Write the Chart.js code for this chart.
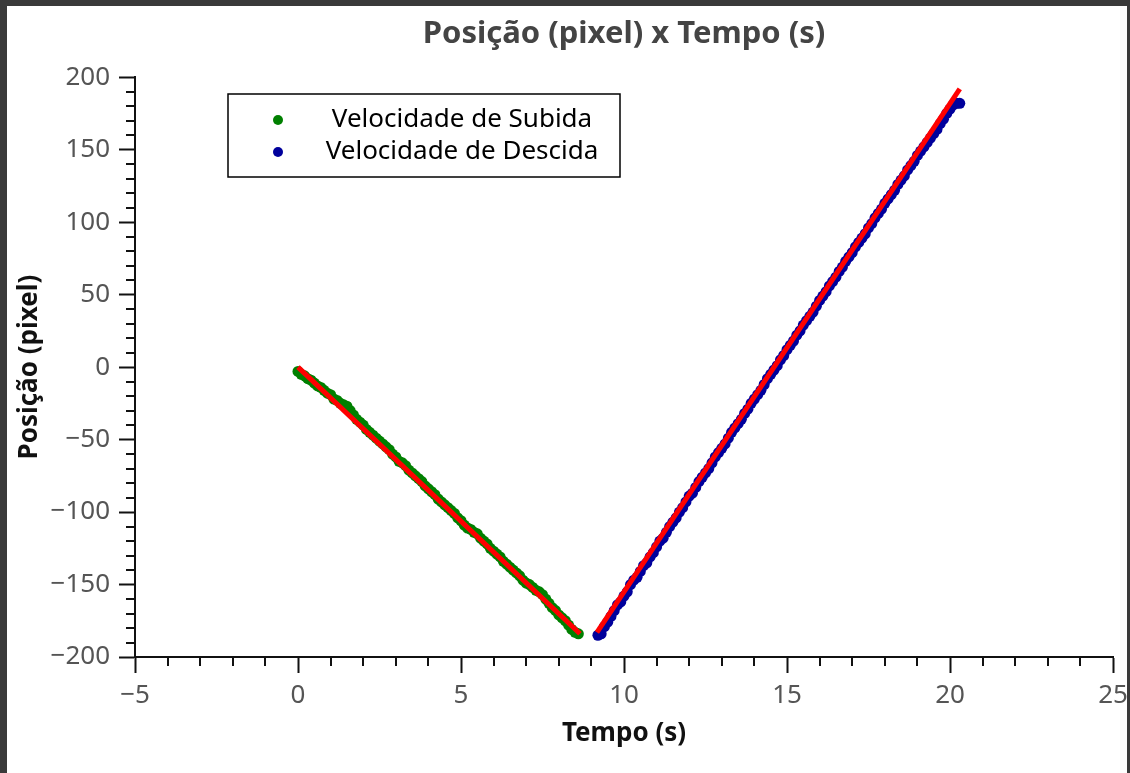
<!DOCTYPE html>
<html>
<head>
<meta charset="utf-8">
<script src="https://cdn.jsdelivr.net/npm/chart.js@4/dist/chart.umd.min.js"></script>
<style>
    html, body { margin: 0; padding: 0; background: #3a3a3a; }
    #wrap { position: absolute; left: 7px; top: 6px; width: 1120px; height: 767px; background: #fff; }
</style>
</head>
<body>
<div id="wrap"><canvas id="posChart"></canvas></div>
<script>
// Subida (green) - tempo (s) and posição (pixel)
const tSubida = [0.0, 0.1, 0.2, 0.3, 0.4, 0.5, 0.6, 0.7, 0.8, 0.9,
    1.0, 1.1, 1.2, 1.3, 1.4, 1.5, 1.6, 1.7, 1.8, 1.9,
    2.0, 2.1, 2.2, 2.3, 2.4, 2.5, 2.6, 2.7, 2.8, 2.9,
    3.0, 3.1, 3.2, 3.3, 3.4, 3.5, 3.6, 3.7, 3.8, 3.9,
    4.0, 4.1, 4.2, 4.3, 4.4, 4.5, 4.6, 4.7, 4.8, 4.9,
    5.0, 5.1, 5.2, 5.3, 5.4, 5.5, 5.6, 5.7, 5.8, 5.9,
    6.0, 6.1, 6.2, 6.3, 6.4, 6.5, 6.6, 6.7, 6.8, 6.9,
    7.0, 7.1, 7.2, 7.3, 7.4, 7.5, 7.6, 7.7, 7.8, 7.9,
    8.0, 8.1, 8.2, 8.3, 8.4, 8.5, 8.6];
const ySubida = [-3, -5, -6, -8, -9, -11, -13, -14, -16, -18,
    -19, -22, -23, -25, -26, -27, -30, -33, -36, -38,
    -40, -43, -45, -47, -49, -51, -53, -55, -57, -60,
    -62, -65, -66, -68, -71, -73, -75, -77, -79, -82,
    -84, -86, -88, -91, -93, -95, -97, -99, -101, -104,
    -106, -109, -111, -112, -114, -115, -118, -120, -122, -125,
    -127, -129, -131, -134, -136, -138, -140, -142, -144, -147,
    -149, -150, -152, -154, -155, -157, -160, -163, -166, -168,
    -171, -173, -175, -178, -181, -183, -184];

// Descida (blue)
const tDescida = [9.2, 9.3, 9.4, 9.5, 9.6, 9.7, 9.8, 9.9,
    10.0, 10.1, 10.2, 10.3, 10.4, 10.5, 10.6, 10.7, 10.8, 10.9,
    11.0, 11.1, 11.2, 11.3, 11.4, 11.5, 11.6, 11.7, 11.8, 11.9,
    12.0, 12.1, 12.2, 12.3, 12.4, 12.5, 12.6, 12.7, 12.8, 12.9,
    13.0, 13.1, 13.2, 13.3, 13.4, 13.5, 13.6, 13.7, 13.8, 13.9,
    14.0, 14.1, 14.2, 14.3, 14.4, 14.5, 14.6, 14.7, 14.8, 14.9,
    15.0, 15.1, 15.2, 15.3, 15.4, 15.5, 15.6, 15.7, 15.8, 15.9,
    16.0, 16.1, 16.2, 16.3, 16.4, 16.5, 16.6, 16.7, 16.8, 16.9,
    17.0, 17.1, 17.2, 17.3, 17.4, 17.5, 17.6, 17.7, 17.8, 17.9,
    18.0, 18.1, 18.2, 18.3, 18.4, 18.5, 18.6, 18.7, 18.8, 18.9,
    19.0, 19.1, 19.2, 19.3, 19.4, 19.5, 19.6, 19.7, 19.8, 19.9,
    20.0, 20.1, 20.2, 20.3];
const yDescida = [-185, -184, -179, -176, -172, -168, -164, -162,
    -158, -155, -150, -147, -145, -141, -137, -135, -131, -128,
    -124, -120, -118, -114, -110, -107, -104, -100, -97, -93,
    -89, -87, -83, -79, -76, -73, -70, -66, -62, -59,
    -56, -53, -49, -45, -42, -39, -36, -32, -29, -25,
    -22, -19, -16, -12, -8, -5, -2, 1, 5, 8,
    12, 15, 18, 22, 25, 29, 32, 35, 38, 42,
    46, 49, 52, 56, 59, 62, 66, 69, 73, 76,
    79, 83, 86, 89, 92, 96, 99, 103, 106, 109,
    113, 116, 119, 122, 126, 129, 132, 136, 139, 142,
    146, 149, 152, 155, 158, 161, 164, 168, 171, 175,
    178, 181, 182, 182];

// fitted lines (red), end points
const tFitSubida = [0.0, 8.65];
const yFitSubida = [0, -184];
const tFitDescida = [9.17, 20.3];
const yFitDescida = [-183, 192];

const FONT = "'Noto Sans', 'DejaVu Sans', sans-serif";

const toPoints = (xs, ys) => xs.map((x, i) => ({ x: x, y: ys[i] }));
const minus = (v) => String(v).replace('-', '\u2212');

// minor ticks, shorter than the major ones
const minorTicks = {
    id: 'minorTicks',
    afterDraw(chart) {
        const ctx = chart.ctx;
        const xs = chart.scales.x;
        const ys = chart.scales.y;
        ctx.save();
        ctx.strokeStyle = '#111';
        ctx.lineWidth = 2;
        ctx.beginPath();
        for (let v = xs.min; v <= xs.max; v += 1) {
            if (v % 5 === 0) continue;
            const px = Math.round(xs.getPixelForValue(v));
            ctx.moveTo(px, ys.bottom);
            ctx.lineTo(px, ys.bottom + 9);
        }
        for (let v = ys.min; v <= ys.max; v += 10) {
            if (v % 50 === 0) continue;
            const py = Math.round(ys.getPixelForValue(v));
            ctx.moveTo(xs.left, py);
            ctx.lineTo(xs.left - 9, py);
        }
        ctx.stroke();
        ctx.restore();
    }
};

// boxed legend inside the plot
const boxLegend = {
    id: 'boxLegend',
    afterDraw(chart) {
        const ctx = chart.ctx;
        const items = chart.data.datasets.filter(d => d.showInBox);
        const box = { x: 221, y: 88, w: 392, h: 83 };
        ctx.save();
        ctx.strokeStyle = '#000';
        ctx.lineWidth = 1.5;
        ctx.fillStyle = '#fff';
        ctx.fillRect(box.x, box.y, box.w, box.h);
        ctx.strokeRect(box.x, box.y, box.w, box.h);
        ctx.font = '26px ' + FONT;
        ctx.textAlign = 'center';
        ctx.textBaseline = 'middle';
        items.forEach((d, i) => {
            const cy = box.y + 26 + i * 32;
            ctx.fillStyle = d.backgroundColor;
            ctx.beginPath();
            ctx.arc(box.x + 50, cy, 5, 0, Math.PI * 2);
            ctx.fill();
            ctx.fillStyle = '#000';
            ctx.fillText(d.label, box.x + 234, cy);
        });
        ctx.restore();
    }
};

document.addEventListener('DOMContentLoaded', () => {
    const ctx = document.getElementById('posChart').getContext('2d');

    new Chart(ctx, {
        type: 'scatter',
        data: {
            datasets: [
                {
                    label: 'Velocidade de Subida',
                    data: toPoints(tSubida, ySubida),
                    backgroundColor: '#008000',
                    borderWidth: 0,
                    pointRadius: 5.5,
                    showInBox: true,
                    order: 3
                },
                {
                    label: 'Velocidade de Descida',
                    data: toPoints(tDescida, yDescida),
                    backgroundColor: '#00009c',
                    borderWidth: 0,
                    pointRadius: 5.5,
                    showInBox: true,
                    order: 2
                },
                {
                    label: 'Ajuste Subida',
                    type: 'line',
                    data: toPoints(tFitSubida, yFitSubida),
                    borderColor: '#ff0000',
                    borderWidth: 5,
                    pointRadius: 0,
                    order: 1
                },
                {
                    label: 'Ajuste Descida',
                    type: 'line',
                    data: toPoints(tFitDescida, yFitDescida),
                    borderColor: '#ff0000',
                    borderWidth: 5,
                    pointRadius: 0,
                    order: 1
                }
            ]
        },
        options: {
            responsive: true,
            maintainAspectRatio: false,
            animation: false,
            layout: { padding: { left: 0, right: 14, top: 0, bottom: 0 } },
            plugins: {
                legend: { display: false },
                tooltip: { enabled: false },
                title: {
                    display: true,
                    fullSize: false,
                    text: 'Posição (pixel) x Tempo (s)',
                    color: '#444',
                    font: { family: FONT, size: 31, weight: 'bold' },
                    padding: { top: 10, bottom: 24 }
                }
            },
            scales: {
                x: {
                    type: 'linear',
                    min: -5,
                    max: 25,
                    afterFit: (scale) => { scale.height = 116; scale.paddingRight = 0; },
                    border: { display: true, color: '#111', width: 2 },
                    grid: { drawOnChartArea: false, drawTicks: true, tickLength: 16, tickWidth: 2, tickColor: '#111' },
                    ticks: {
                        stepSize: 5,
                        padding: 7,
                        color: '#555',
                        font: { family: FONT, size: 26 },
                        callback: (v) => minus(v)
                    },
                    title: {
                        display: true,
                        text: 'Tempo (s)',
                        color: '#111',
                        font: { family: FONT, size: 26, weight: 'bold' },
                        padding: { top: 0, bottom: 24 }
                    }
                },
                y: {
                    type: 'linear',
                    min: -200,
                    max: 200,
                    afterFit: (scale) => { scale.width = 128; },
                    border: { display: true, color: '#111', width: 2 },
                    grid: { drawOnChartArea: false, drawTicks: true, tickLength: 16, tickWidth: 2, tickColor: '#111' },
                    ticks: {
                        stepSize: 50,
                        padding: 9,
                        color: '#555',
                        font: { family: FONT, size: 26 },
                        callback: (v) => minus(v)
                    },
                    title: {
                        display: true,
                        text: 'Posição (pixel)',
                        color: '#111',
                        font: { family: FONT, size: 26, weight: 'bold' },
                        padding: { top: 7, bottom: 0 }
                    }
                }
            }
        },
        plugins: [minorTicks, boxLegend]
    });
});
</script>
</body>
</html>
